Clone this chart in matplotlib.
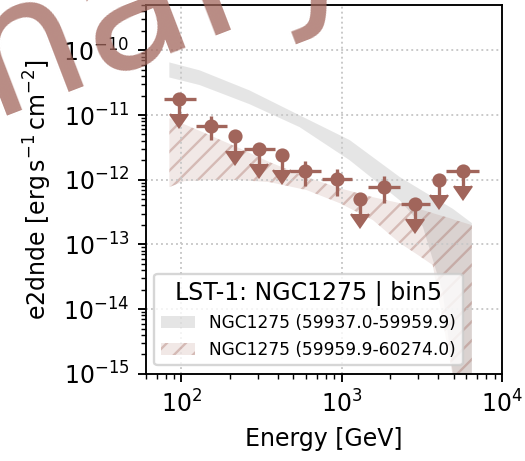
import numpy as np
import matplotlib.pyplot as plt

# flux points, bin5 (second period)
energy = np.array([97, 153, 217, 304, 422, 593, 940, 1296, 1837, 2858, 4039, 5728])
e_min = np.array([78, 124, 217, 244, 422, 478, 750, 1296, 1469, 2329, 4039, 4508])
e_max = np.array([124, 191, 217, 381, 422, 747, 1155, 1296, 2305, 3548, 4039, 7178])
e2dnde = np.array([1.75e-11, 6.8e-12, 4.7e-12, 2.96e-12, 2.4e-12, 1.37e-12,
                   1.01e-12, 5.0e-13, 7.8e-13, 4.2e-13, 1.0e-12, 1.37e-12])
e2dnde_err = np.array([0, 2.7e-12, 0, 0, 0, 0.58e-12, 0.44e-12, 0, 0.35e-12, 0, 0, 0])
is_ul = np.array([True, False, True, True, True, False, False, True, False, True, True, True])

# model bands
band1_energy = np.array([84, 130, 266, 546, 1122, 2305, 3206, 4276, 4943, 6494])
band1_hi = np.array([6.5e-11, 4.9e-11, 2.4e-11, 9.9e-12, 4.1e-12, 1.1e-12, 6.7e-13, 4.4e-13, 3.55e-13, 2.14e-13])
band1_lo = np.array([3.8e-11, 2.9e-11, 1.47e-11, 6.5e-12, 2.0e-12, 4.8e-13, 1.9e-13, 1.8e-14, 1.0e-15, 1e-16])

band2_energy = np.array([84, 104, 150, 230, 355, 604, 970, 1565, 2305, 3065, 3700, 4276, 4732, 5120, 6494])
band2_hi = np.array([8.93e-12, 7.21e-12, 4.88e-12, 3.07e-12, 1.87e-12, 1.10e-12, 7.41e-13, 5.38e-13,
                     4.35e-13, 3.52e-13, 3.05e-13, 2.74e-13, 2.55e-13, 2.38e-13, 1.99e-13])
band2_lo = np.array([7.69e-13, 9.51e-13, 9.86e-13, 9.86e-13, 9.18e-13, 6.92e-13, 4.35e-13, 2.38e-13,
                     1.05e-13, 6.6e-14, 4.8e-14, 6.6e-15, 1.64e-15, 5.7e-16, 2.3e-17])

label1 = 'NGC1275 (59937.0-59959.9)'
label2 = 'NGC1275 (59959.9-60274.0)'
color = '#a1655b'

fig = plt.figure(figsize=(525 / 170, 461 / 170), dpi=170)
ax = fig.add_axes([0.278, 0.189, 0.678, 0.8])

ax.fill_between(band1_energy, band1_lo, band1_hi, facecolor='grey', alpha=0.2,
                linewidth=0, label=label1)
ax.fill_between(band2_energy, band2_lo, band2_hi, facecolor=(0.63, 0.40, 0.36, 0.15),
                edgecolor=(0.63, 0.40, 0.36, 0.35), hatch='///', linewidth=0, label=label2)

# upper limits: arrow length as fraction of the value
yerr = np.where(is_ul, 0.41 * e2dnde, e2dnde_err)
xerr = [energy - e_min, e_max - energy]
pts, caps, bars = ax.errorbar(energy, e2dnde, xerr=xerr, yerr=yerr, uplims=is_ul, fmt='o',
                              color=color, markersize=5, elinewidth=1.4, capsize=0)
for c in caps:
    c.set_markersize(7.3)

ax.set_xscale('log')
ax.set_yscale('log')
ax.set_xlim(60, 1e4)
ax.set_ylim(1e-15, 5e-10)
ax.grid(True, which='major', linestyle=':', color='#c8c8c8')
ax.set_xlabel('Energy [GeV]')
ax.set_ylabel(r'e2dnde [$\mathrm{erg\,s^{-1}\,cm^{-2}}$]')

ax.legend(loc='lower left', title='LST-1: NGC1275 | bin5', fontsize=7.2,
          title_fontsize=10)

# watermark
fig.text(0.701, 1.064, 'Preliminary', fontsize=76, color=color, alpha=0.75,
         rotation=21, rotation_mode='anchor', ha='right', va='baseline')

plt.savefig('out.png', dpi=170)
